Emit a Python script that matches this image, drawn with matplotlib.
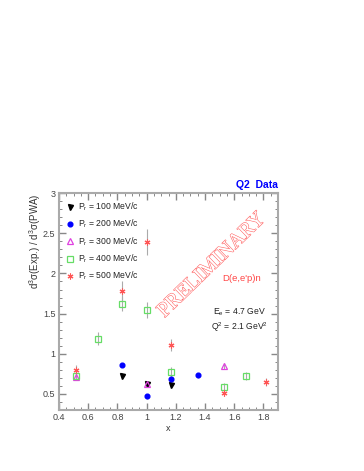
import matplotlib.pyplot as plt
import matplotlib.patheffects as pe
from matplotlib.ticker import MultipleLocator

# P_r = 100 MeV/c
x100 = [0.83, 1.0, 1.17]
y100 = [0.725, 0.625, 0.616]
e100 = [0.03, 0.03, 0.03]

# P_r = 200 MeV/c
x200 = [0.83, 1.0, 1.17, 1.35]
y200 = [0.86, 0.47, 0.68, 0.73]
e200 = [0.03, 0.03, 0.03, 0.03]

# P_r = 300 MeV/c
x300 = [0.52, 1.0, 1.53]
y300 = [0.71, 0.625, 0.85]
e300 = [0.04, 0.03, 0.04]

# P_r = 400 MeV/c
x400 = [0.52, 0.67, 0.83, 1.0, 1.17, 1.53, 1.68]
y400 = [0.72, 1.19, 1.62, 1.54, 0.77, 0.59, 0.725]
e400 = [0.05, 0.08, 0.09, 0.1, 0.06, 0.05, 0.05]

# P_r = 500 MeV/c
x500 = [0.52, 0.83, 1.0, 1.17, 1.53, 1.82]
y500 = [0.80, 1.78, 2.395, 1.11, 0.51, 0.65]
e500 = [0.06, 0.13, 0.16, 0.075, 0.04, 0.05]

labels = ["P$_r$ = 100 MeV/c", "P$_r$ = 200 MeV/c", "P$_r$ = 300 MeV/c",
          "P$_r$ = 400 MeV/c", "P$_r$ = 500 MeV/c"]

plt.rcParams['font.family'] = ['Liberation Sans', 'DejaVu Sans']
plt.rcParams['mathtext.fontset'] = 'custom'
plt.rcParams['mathtext.rm'] = 'Liberation Sans'
plt.rcParams['mathtext.it'] = 'Liberation Sans'

fig = plt.figure(figsize=(3.64, 4.71), dpi=100)
ax = fig.add_axes([0.162, 0.1295, 0.602, 0.4605])

ecol = '#aaaaaa'
series = [
    (x100, y100, e100, dict(marker='v', color='black', mfc='black', ms=3.6)),
    (x200, y200, e200, dict(marker='o', color='blue', mfc='blue', ms=3.4)),
    (x300, y300, e300, dict(marker='^', color='#e040e0', mfc='none', ms=4, mew=0.9)),
    (x400, y400, e400, dict(marker='s', color='#66dd66', mfc='none', ms=3.8, mew=0.9)),
    (x500, y500, e500, dict(marker=(6, 2, 0), color='#ff5555', mfc='none', ms=4.2, mew=0.8)),
]
for xs, ys, es, st in series:
    ax.errorbar(xs, ys, yerr=es, ls='none', ecolor=ecol, elinewidth=0.8, capsize=0, **st)

# legend drawn as marker + text
ly = [2.83, 2.614, 2.398, 2.182, 1.966]
for (xs, ys, es, st), lab, yy in zip(series, labels, ly):
    ax.plot([0.478], [yy], ls='none', **st)
    ax.text(0.53, yy, lab, fontsize=6.2, va='center', color='#222222')

ax.set_xlim(0.4, 1.9)
ax.set_ylim(0.3, 3.0)
ax.xaxis.set_major_locator(MultipleLocator(0.2))
ax.xaxis.set_minor_locator(MultipleLocator(0.05))
ax.yaxis.set_major_locator(MultipleLocator(0.5))
ax.yaxis.set_minor_locator(MultipleLocator(0.1))
ax.xaxis.set_major_formatter(plt.FuncFormatter(lambda v, p: ('%g' % round(v, 2))))
ax.yaxis.set_major_formatter(plt.FuncFormatter(lambda v, p: ('%g' % round(v, 2))))
ax.tick_params(which='both', direction='in', top=True, right=True,
               color='#888888', labelsize=6.5, labelcolor='#444444', pad=2.5)
ax.tick_params(which='major', length=5, width=1)
ax.tick_params(which='minor', length=2.5, width=0.7)
for s in ax.spines.values():
    s.set_color('#aaaaaa')
    s.set_linewidth(1.5)

ax.set_xlabel("x", fontsize=6.5, color='#333333', labelpad=1)
ax.text(-0.108, 1.0, "d$^3\\sigma$(Exp.) / d$^3\\sigma$(PWA)", transform=ax.transAxes,
        rotation=90, ha='center', va='top', fontsize=7, color='#333333')

ax.text(1.0, 1.015, "Q2  Data", transform=ax.transAxes, ha='right', va='bottom',
        fontsize=7.5, color='blue', fontweight='bold')
ax.text(1.516, 1.94, "D(e,e'p)n", fontsize=6.8, color='#ff4444', va='center')
ax.text(1.457, 1.52, "E$_e$ = 4.7 GeV", fontsize=6.2, color='#222222', va='center')
ax.text(1.44, 1.33, "Q$^2$ = 2.1 GeV$^2$", fontsize=6.2, color='#222222', va='center')

ax.text(1.45, 2.10, "PRELIMINARY", fontsize=15, family='Liberation Serif',
        rotation=44, ha='center', va='center', color='white',
        path_effects=[pe.Stroke(linewidth=0.8, foreground='#ff6666'), pe.Normal()])

plt.savefig('out.png', dpi=100)
